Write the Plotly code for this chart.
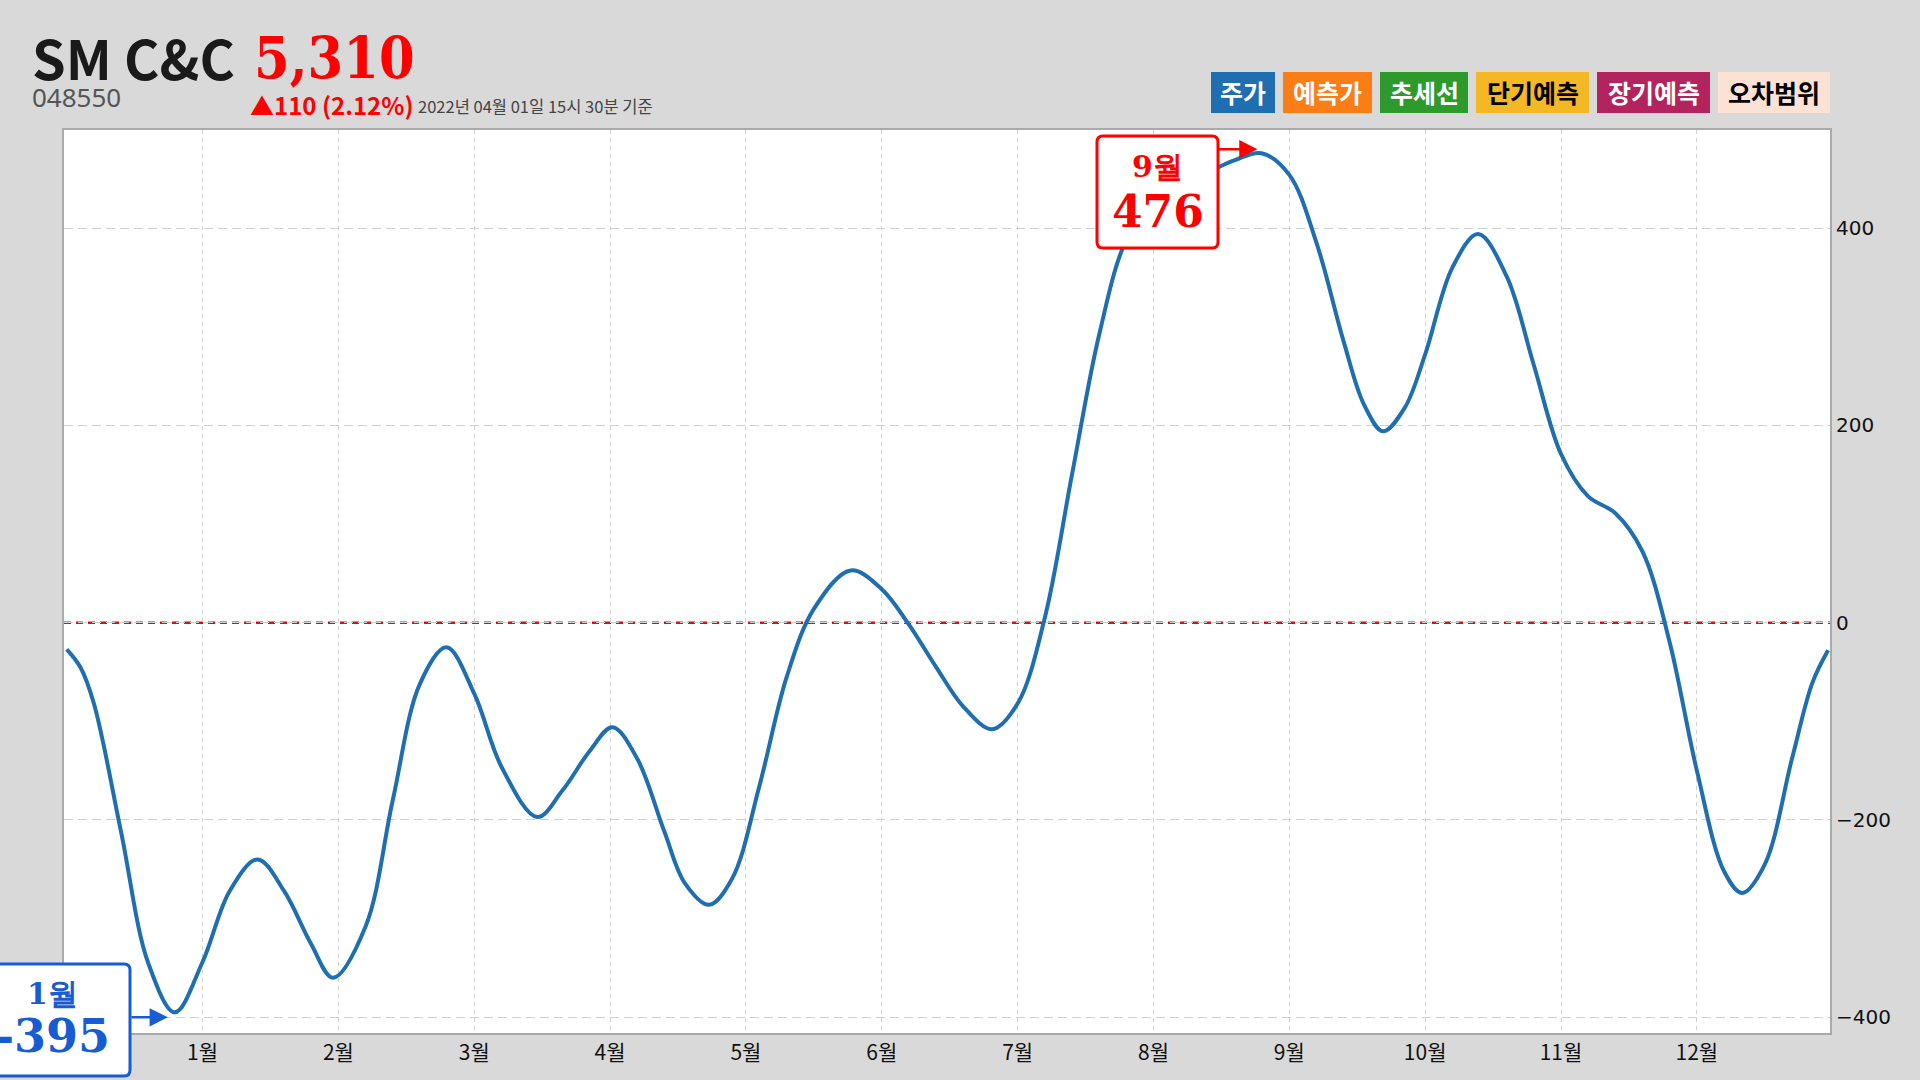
import plotly.graph_objects as go

# ---------------- data ----------------
month_labels = ["1월", "2월", "3월", "4월", "5월", "6월", "7월", "8월", "9월", "10월", "11월", "12월"]
month_ticks = [1, 2, 3, 4, 5, 6, 7, 8, 9, 10, 11, 12]

# position along the year (in month units) and value of the curve
x_pos = [0.0, 0.1, 0.2, 0.4, 0.6, 0.796, 1.0, 1.2, 1.405, 1.6,
         1.8, 1.96, 2.2, 2.4, 2.6, 2.796, 3.0, 3.2, 3.463, 3.65,
         3.85, 4.018, 4.2, 4.4, 4.55, 4.729, 4.9, 5.1, 5.3, 5.5,
         5.77, 6.0, 6.2, 6.4, 6.6, 6.812, 7.0, 7.2, 7.4, 7.6,
         7.8, 8.0, 8.2, 8.4, 8.6, 8.795, 9.0, 9.2, 9.4, 9.55,
         9.69, 9.85, 10.0, 10.2, 10.39, 10.6, 10.8, 11.0, 11.2, 11.4,
         11.6, 11.8, 12.0, 12.2, 12.333, 12.5, 12.7, 12.85, 12.966]
values = [-27, -45, -82, -212, -345, -395, -344, -272, -240, -272,
          -326, -360, -308, -180, -62, -25, -72, -146, -197, -170,
          -130, -106, -138, -212, -264, -286, -259, -165, -55, 14,
          53, 34, -2, -45, -85, -108, -82, 5, 150, 292,
          388, 425, 447, 457, 469, 476, 454, 385, 285, 221,
          194, 218, 272, 360, 394, 351, 261, 171, 128, 111,
          72, -20, -150, -252, -274, -245, -138, -61, -28]

y_ticks = [-400, -200, 0, 200, 400]

header_name = "SM C&C"
header_price = "5,310"
header_code = "048550"
header_change = "▲110 (2.12%)"
header_time = "2022년 04월 01일 15시 30분 기준"

legend_names = ["주가", "예측가", "추세선", "단기예측", "장기예측", "오차범위"]
legend_fill = ["#1f6eb0", "#fa7d15", "#2e9a2c", "#f4b825", "#b3245f", "#fbe2d5"]
legend_text = ["white", "white", "white", "black", "white", "black"]

# ---------------- layout geometry ----------------
W, H = 1920, 1080
ML, MR, MT, MB = 64, 90, 130, 47
PW, PH = W - ML - MR, H - MT - MB
LINE_BLUE = "#1f6eb0"


def px(X, Y):
    """pixel -> paper coordinates"""
    return (X - ML) / PW, (H - MB - Y) / PH


def rrect(x0, y0, x1, y1, r=6):
    pts = []
    a = px(x0 + r, y0); pts.append(f"M{a[0]},{a[1]}")
    a = px(x1 - r, y0); pts.append(f"L{a[0]},{a[1]}")
    c = px(x1, y0); e = px(x1, y0 + r); pts.append(f"Q{c[0]},{c[1]} {e[0]},{e[1]}")
    a = px(x1, y1 - r); pts.append(f"L{a[0]},{a[1]}")
    c = px(x1, y1); e = px(x1 - r, y1); pts.append(f"Q{c[0]},{c[1]} {e[0]},{e[1]}")
    a = px(x0 + r, y1); pts.append(f"L{a[0]},{a[1]}")
    c = px(x0, y1); e = px(x0, y1 - r); pts.append(f"Q{c[0]},{c[1]} {e[0]},{e[1]}")
    a = px(x0, y0 + r); pts.append(f"L{a[0]},{a[1]}")
    c = px(x0, y0); e = px(x0 + r, y0); pts.append(f"Q{c[0]},{c[1]} {e[0]},{e[1]}")
    return " ".join(pts) + " Z"


fig = go.Figure()
fig.add_trace(go.Scatter(
    x=x_pos, y=values, mode="lines",
    line=dict(color=LINE_BLUE, width=4, shape="spline", smoothing=1.0),
    hoverinfo="skip", showlegend=False,
))

KR = "Noto Sans CJK KR"
SERIF = "DejaVu Serif"
SERIF_C = "DejaVu Serif Condensed, DejaVu Serif"

shapes = []
annotations = []

# zero line
shapes.append(dict(type="line", xref="paper", x0=0, x1=1, yref="y", y0=0, y1=0,
                   line=dict(color="#ff0000", width=2.6, dash="7px,5px"), layer="between"))


def ann_px(text, X, Y, size, color, family, xanchor="left", bold=False):
    px_, py_ = px(X, Y)
    t = f"<b>{text}</b>" if bold else text
    annotations.append(dict(text=t, xref="paper", yref="paper", x=px_, y=py_,
                            xanchor=xanchor, yanchor="middle", showarrow=False,
                            font=dict(size=size, color=color, family=family)))


# header
ann_px(header_name, 30, 57, 54, "#1a1a1a", KR, bold=True)
ann_px(header_price, 252, 58, 57, "#ff0000", SERIF_C, bold=True)
ann_px(header_code, 30, 97, 26, "#555555", "Noto Sans")
ann_px(header_change, 248, 104, 24, "#ff0000", KR, bold=True)
ann_px(header_time, 416, 106, 16.5, "#444444", KR)

# legend boxes
box_x = [(1211, 1275), (1283, 1372), (1380, 1468), (1476, 1589), (1597, 1710), (1718, 1830)]
for (bx0, bx1), name, fill, tc in zip(box_x, legend_names, legend_fill, legend_text):
    a = px(bx0, 72); b = px(bx1, 113)
    shapes.append(dict(type="rect", xref="paper", yref="paper", x0=a[0], x1=b[0], y0=b[1], y1=a[1],
                       fillcolor=fill, line=dict(width=0), layer="above"))
    ann_px(name, (bx0 + bx1) / 2, 92.5, 25, tc, KR, xanchor="center", bold=True)

# max / min call-outs derived from the data
i_max = max(range(len(values)), key=lambda i: values[i])
i_min = min(range(len(values)), key=lambda i: values[i])

# max box (red)
shapes.append(dict(type="path", xref="paper", yref="paper", path=rrect(1097, 136, 1218, 248),
                   fillcolor="white", line=dict(color="#ff0000", width=3), layer="above"))
ann_px(f"{round(x_pos[i_max])}월", 1157.5, 166, 30, "#ff0000", SERIF, xanchor="center", bold=True)
ann_px(f"{values[i_max]}", 1157.5, 211, 44, "#ff0000", SERIF, xanchor="center", bold=True)
annotations.append(dict(text="", x=x_pos[i_max], y=values[i_max], xref="x", yref="y",
                        showarrow=True, ax=-40, ay=0, xshift=-4, yshift=4,
                        arrowhead=2, arrowsize=1.4, arrowwidth=2.6, arrowcolor="#ff0000"))

# min box (blue)
BL = "#175cd3"
shapes.append(dict(type="path", xref="paper", yref="paper", path=rrect(-22, 964, 130, 1076),
                   fillcolor="white", line=dict(color=BL, width=3), layer="above"))
ann_px(f"{round(x_pos[i_min])}월", 52, 993, 30, BL, SERIF, xanchor="center", bold=True)
ann_px(f"{values[i_min]}", 52, 1036, 46, BL, SERIF, xanchor="center", bold=True)
annotations.append(dict(text="", x=x_pos[i_min], y=values[i_min], xref="x", yref="y",
                        showarrow=True, ax=-38, ay=0, xshift=-7, yshift=-5,
                        arrowhead=2, arrowsize=1.4, arrowwidth=2.6, arrowcolor=BL))

fig.update_layout(
    width=W, height=H,
    margin=dict(l=ML, r=MR, t=MT, b=MB, pad=0),
    paper_bgcolor="#d9d9d9", plot_bgcolor="white",
    showlegend=False,
    shapes=shapes, annotations=annotations,
    font=dict(family=KR, color="#111111"),
    xaxis=dict(range=[-0.02, 12.98], tickvals=month_ticks, ticktext=month_labels,
               showgrid=True, gridcolor="#cfcfcf", gridwidth=1, griddash="4px,4px",
               zeroline=False, showline=True, linecolor="#aaaaaa", linewidth=2, mirror=True,
               ticks="", tickfont=dict(size=21, family=KR, color="#111111")),
    yaxis=dict(range=[-416, 499.5], tickvals=y_ticks, side="right",
               showgrid=True, gridcolor="#cfcfcf", gridwidth=1, griddash="9px,5px",
               zeroline=False, showline=True, linecolor="#aaaaaa", linewidth=2, mirror=True,
               ticks="", tickfont=dict(size=20, family="DejaVu Sans", color="#111111")),
)

fig.write_html("out.html", config={"displayModeBar": False},
               post_script="document.body.style.margin='0';document.body.style.overflow='hidden';")
